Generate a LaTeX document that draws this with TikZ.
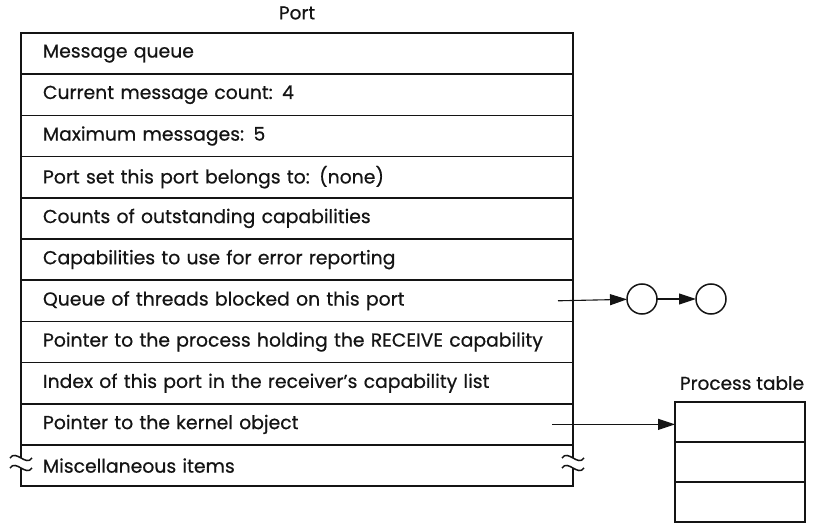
\documentclass[tikz,border=0pt]{standalone}
\usepackage{fontspec}
\setmainfont{Poppins}[FakeBold=0.6]
\usetikzlibrary{arrows.meta,positioning,calc}
\definecolor{Ink}{HTML}{141414}
\tikzset{
  >={Triangle[length=17pt,width=11pt]},
  row/.style={rectangle,draw=Ink,line width=1.5pt,outer sep=0pt,minimum height=41.2pt,
    text width=508pt,inner xsep=22pt,align=left,font=\fontsize{18.8}{20}\selectfont,text=Ink},
  slot/.style={rectangle,draw=Ink,line width=1.5pt,outer sep=0pt,minimum width=130pt,minimum height=40pt},
  qnode/.style={circle,draw=Ink,line width=1.5pt,minimum size=30pt,inner sep=0pt,outer sep=0pt},
  ptr/.style={->,line width=1.1pt,draw=Ink},
  frame/.style={line width=1.5pt,draw=Ink},
  ttl/.style={font=\fontsize{18.5}{20}\selectfont,text=Ink}
}

\begin{document}
\begin{tikzpicture}[x=1pt,y=-1pt]
        \useasboundingbox (0,0) rectangle (815,524);
        % the port record
        \node[ttl] (port) at (297,13) {Port};
        \node[row] (r1) at (297,53.6) {Message queue};
        \node[row,below=0pt of r1] (r2) {Current message count: 4};
        \node[row,below=0pt of r2] (r3) {Maximum messages: 5};
        \node[row,below=0pt of r3] (r4) {Port set this port belongs to: (none)};
        \node[row,below=0pt of r4] (r5) {Counts of outstanding capabilities};
        \node[row,below=0pt of r5] (r6) {Capabilities to use for error reporting};
        \node[row,below=0pt of r6] (r7) {Queue of threads blocked on this port};
        \node[row,below=0pt of r7] (r8) {Pointer to the process holding the RECEIVE capability};
        \node[row,below=0pt of r8] (r9) {Index of this port in the receiver's capability list};
        \node[row,below=0pt of r9] (r10) {Pointer to the kernel object};
        \node[row,draw=none,below=0pt of r10] (r11) {Miscellaneous items};
        % open sides of the last row
        \draw[frame] ([yshift=-13pt]r11.north west) -- (r11.north west);
        \draw[frame] ([yshift=-23pt]r11.north west) -- (r11.south west) -- (r11.south east) -- ([yshift=-23pt]r11.north east);
        \draw[frame] ([yshift=-13pt]r11.north east) -- (r11.north east);
        \foreach \s in {13,23} {
          \draw[frame] ([xshift=-11pt,yshift=-\s pt]r11.north west) .. controls +(6,-9) and +(-6,9) .. ([xshift=11pt,yshift=-\s pt]r11.north west);
          \draw[frame] ([xshift=-11pt,yshift=-\s pt]r11.north east) .. controls +(6,-9) and +(-6,9) .. ([xshift=11pt,yshift=-\s pt]r11.north east);
        }
        % blocked threads
        \node[qnode] (t1) at (642,299) {};
        \node[qnode] (t2) at (711,299) {};
        \coordinate (qs) at ([xshift=-15pt]r7.east);
        \draw[ptr] (qs) -- (t1);
        \draw[ptr] (t1) -- (t2);
        % process table
        \node[ttl] (ptab) at (742,383) {Process table};
        \node[slot] (p1) at (740,422) {};
        \node[slot,below=0pt of p1] (p2) {};
        \node[slot,below=0pt of p2] (p3) {};
        \coordinate (ks) at ([xshift=-21pt]r10.east);
        \draw[ptr] (ks) -- (p1.west |- ks);
      \end{tikzpicture}
\end{document}
